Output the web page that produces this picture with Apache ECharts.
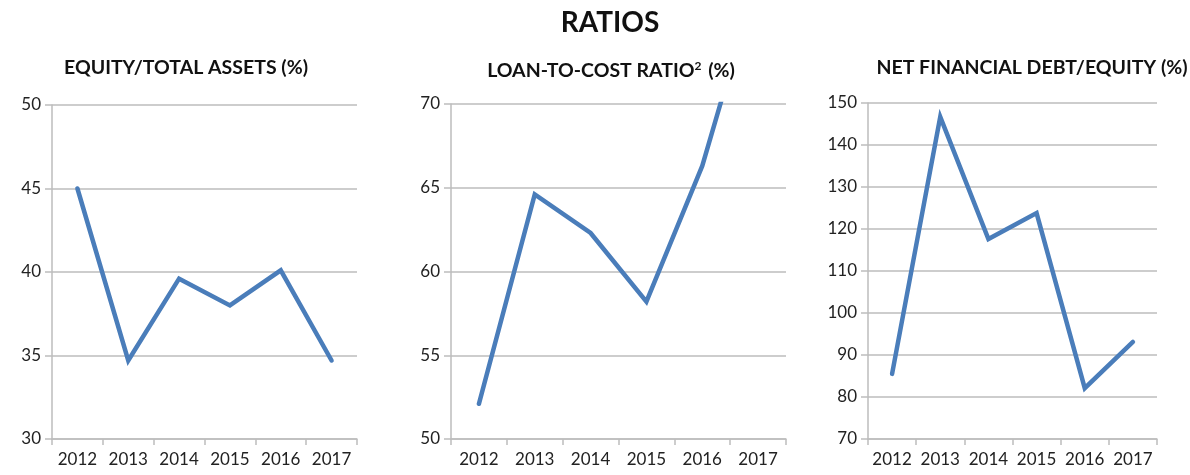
<!DOCTYPE html>
<html>
<head>
<meta charset="utf-8">
<script src="https://cdn.jsdelivr.net/npm/echarts@6/dist/echarts.min.js"></script>
<style>
  html, body { margin: 0; padding: 0; background: #fff; }
  #chart { width: 1190px; height: 475px; }
</style>
</head>
<body>
<div id="chart"></div>
<script>
// years on the x axis
var years = ['2012', '2013', '2014', '2015', '2016', '2017'];
// values
var equityAssets = [45.0, 34.7, 39.6, 38.0, 40.1, 34.7];
var loanToCost = [52.1, 64.6, 62.3, 58.2, 66.3, 77.7]; // 2017 goes off the top of the axis
var debtEquity = [85.5, 146.7, 117.6, 123.8, 82.1, 93.1];

var lineColor = '#4a7dba';
var gridColor = '#bdbdbd';
var font = 'Lato';

var myChart = echarts.init(document.getElementById('chart'));

function xAxisFor(i) {
  return {
    gridIndex: i,
    type: 'category',
    data: years,
    boundaryGap: true,
    axisLine: { lineStyle: { color: gridColor, width: 1.5 } },
    axisTick: { show: true, length: 6, lineStyle: { color: gridColor, width: 1.5 } },
    axisLabel: { color: '#222', fontSize: 17, fontFamily: font, margin: 12, interval: 0 }
  };
}

function yAxisFor(i, min, max, step) {
  return {
    gridIndex: i,
    type: 'value',
    min: min,
    max: max,
    interval: step,
    axisLine: { show: true, lineStyle: { color: gridColor, width: 1.5 } },
    axisTick: { show: true, length: 7, lineStyle: { color: gridColor, width: 1.5 } },
    splitLine: { lineStyle: { color: gridColor, width: 1.5 } },
    axisLabel: { color: '#222', fontSize: 17, fontFamily: font, margin: 11 }
  };
}

function seriesFor(i, data) {
  return {
    type: 'line',
    xAxisIndex: i,
    yAxisIndex: i,
    data: data,
    symbol: 'none',
    clip: true,
    lineStyle: { color: lineColor, width: 4.5, cap: 'round', join: 'miter' }
  };
}

var subStyle = { fontSize: 19.5, fontWeight: 'bold', color: '#111', fontFamily: font };

var option = {
  animation: false,
  title: [
    {
      text: 'RATIOS',
      left: 605, top: 4,
      textAlign: 'center',
      textStyle: { fontSize: 28, fontWeight: 'bold', color: '#111', fontFamily: font }
    },
    {
      text: 'EQUITY/TOTAL ASSETS (%)',
      left: 181, top: 53, textAlign: 'center',
      textStyle: subStyle
    },
    {
      text: 'LOAN-TO-COST RATIO{sup|2} (%)',
      left: 606, top: 55, textAlign: 'center',
      textStyle: {
        fontSize: 19.5, fontWeight: 'bold', color: '#111', fontFamily: font,
        rich: { sup: { fontSize: 12, fontWeight: 'bold', color: '#111', fontFamily: font, verticalAlign: 'top', padding: [0, 2, 10, 0] } }
      }
    },
    {
      text: 'NET FINANCIAL DEBT/EQUITY (%)',
      left: 1027, top: 53, textAlign: 'center',
      textStyle: subStyle
    }
  ],
  grid: [
    { left: 52, width: 305, top: 105, bottom: 36 },
    { left: 451, width: 335, top: 104, bottom: 36 },
    { left: 868, width: 289, top: 103, bottom: 36 }
  ],
  xAxis: [xAxisFor(0), xAxisFor(1), xAxisFor(2)],
  yAxis: [
    yAxisFor(0, 30, 50, 5),
    yAxisFor(1, 50, 70, 5),
    yAxisFor(2, 70, 150, 10)
  ],
  series: [
    seriesFor(0, equityAssets),
    seriesFor(1, loanToCost),
    seriesFor(2, debtEquity)
  ]
};

myChart.setOption(option);
</script>
</body>
</html>
